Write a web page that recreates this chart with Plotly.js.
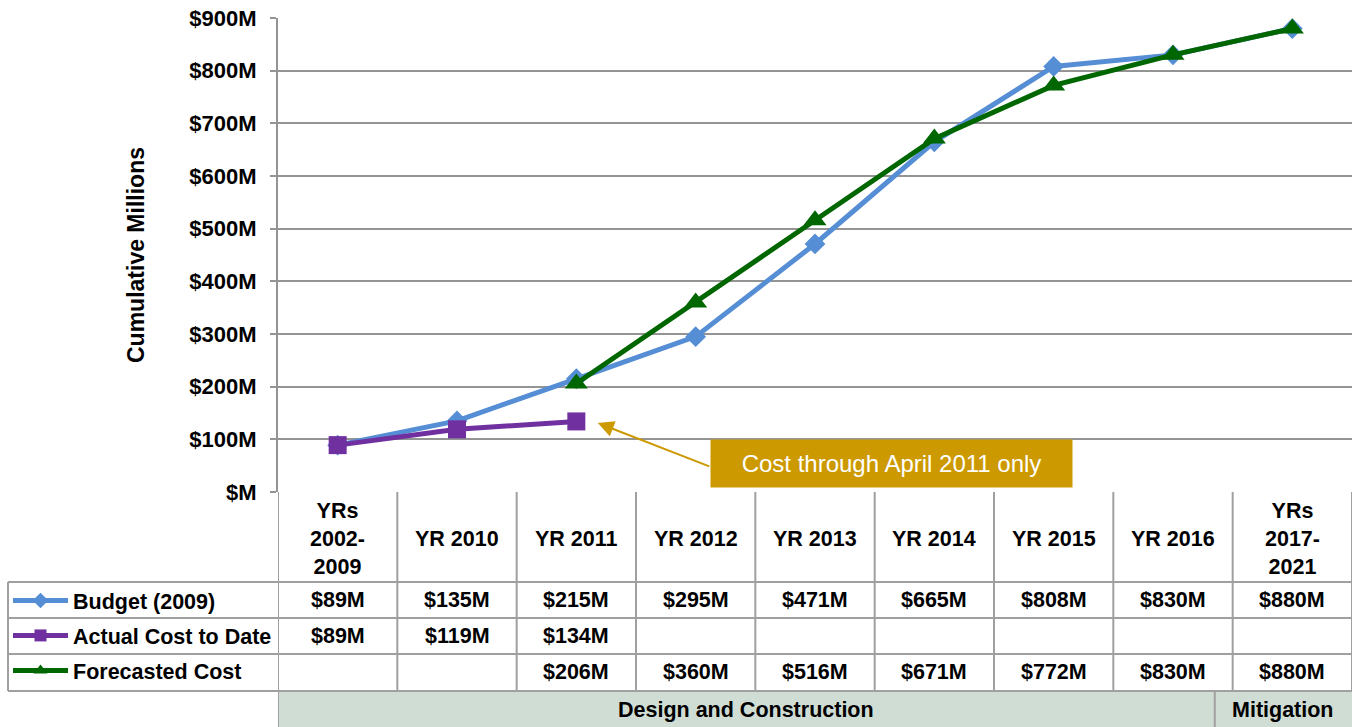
<!DOCTYPE html>
<html><head><meta charset="utf-8">
<script src="https://cdn.plot.ly/plotly-3.0.1.min.js"></script>
<style>html,body{margin:0;padding:0;background:#fff}#chart{width:1352px;height:727px}</style>
</head><body><div id="chart"></div>
<script>
// ---- data ----
const categories = ['YRs 2002-2009','YR 2010','YR 2011','YR 2012','YR 2013','YR 2014','YR 2015','YR 2016','YRs 2017-2021'];
const headerLabels = ['YRs<br>2002-<br>2009','YR 2010','YR 2011','YR 2012','YR 2013','YR 2014','YR 2015','YR 2016','YRs<br>2017-<br>2021'];
const budget   = [89,135,215,295,471,665,808,830,880];
const actual   = [89,119,134,null,null,null,null,null,null];
const forecast = [null,null,206,360,516,671,772,830,880];
const seriesNames = ['Budget (2009)','Actual Cost to Date','Forecasted Cost'];
const phaseLabels = ['Design and Construction','Mitigation'];
const phaseEdges = [-0.5, 7.35, 8.5];   // phase band boundaries on the category scale
const yTickVals = [0,100,200,300,400,500,600,700,800,900];
const yTickText = ['$M','$100M','$200M','$300M','$400M','$500M','$600M','$700M','$800M','$900M'];
const noteText = 'Cost through April 2011 only';
const yTitle = 'Cumulative Millions';

// ---- layout geometry (pixels) ----
const W=1352,H=727;
const plotLeft=278, plotTop=18, plotBottom=492;
const rowLines=[582,618,654,691];
const legendLeft=8;
const px=x=>x/W, py=y=>1-y/H;
const FONT='Liberation Sans, Arial, sans-serif';
const colors=['#558ED5','#7030A0','#006600'];
const gridCol='#949494', tableCol='#a0a0a0';
const n=categories.length;
const TS=21.5;

const traces=[
 {x:categories,y:budget,name:seriesNames[0],legendgroup:'a',type:'scatter',mode:'lines+markers',legendrank:1,
  line:{color:colors[0],width:5},marker:{symbol:'diamond',size:16,color:colors[0]}},
 {x:categories,y:forecast,name:seriesNames[2],legendgroup:'c',type:'scatter',mode:'lines+markers',legendrank:3,
  line:{color:colors[2],width:5},marker:{symbol:'triangle-up',size:20,color:colors[2]}},
 {x:categories,y:actual,name:seriesNames[1],legendgroup:'b',type:'scatter',mode:'lines+markers',legendrank:2,
  line:{color:colors[1],width:5},marker:{symbol:'square',size:18,color:colors[1]}}
];

const shapes=[];
const ann=[];
// green phase band
shapes.push({type:'rect',xref:'x',yref:'paper',x0:phaseEdges[0],x1:phaseEdges[phaseEdges.length-1],y0:py(H),y1:py(rowLines[3]),
  fillcolor:'#D0DDD4',line:{width:0},layer:'below'});
// horizontal table lines
rowLines.forEach(y=>shapes.push({type:'line',xref:'paper',yref:'paper',x0:px(legendLeft),x1:1,y0:py(y),y1:py(y),line:{color:tableCol,width:2}}));
// legend column left border
shapes.push({type:'line',xref:'paper',yref:'paper',x0:px(legendLeft),x1:px(legendLeft),y0:py(rowLines[0]),y1:py(rowLines[3]),line:{color:tableCol,width:2}});
// vertical column lines
for(let i=0;i<=n;i++){
  shapes.push({type:'line',xref:'x',yref:'paper',x0:i-0.5,x1:i-0.5,y0:py(plotBottom),y1:py(i===0?H:rowLines[3]),line:{color:tableCol,width:2}});
}
// phase dividers
for(let k=1;k<phaseEdges.length-1;k++){
  shapes.push({type:'line',xref:'x',yref:'paper',x0:phaseEdges[k],x1:phaseEdges[k],y0:py(rowLines[3]),y1:py(H),line:{color:tableCol,width:2}});
}
// header labels
headerLabels.forEach((t,i)=>ann.push({xref:'x',yref:'paper',x:i,y:py(539),text:t,showarrow:false,
  font:{family:FONT,size:TS,color:'#000',weight:'bold'},yanchor:'middle',xanchor:'center'}));
// values rows
const rows=[budget,actual,forecast];
const rowCenters=[600,636,672];
rows.forEach((arr,r)=>arr.forEach((v,i)=>{ if(v!==null) ann.push({xref:'x',yref:'paper',x:i,y:py(rowCenters[r]),
  text:'$'+v+'M',showarrow:false,font:{family:FONT,size:TS,color:'#000',weight:'bold'},yanchor:'middle',xanchor:'center'});}));
// phase labels
phaseLabels.forEach((t,k)=>ann.push({xref:'x',yref:'paper',x:(phaseEdges[k]+phaseEdges[k+1])/2,y:py(710),text:t,showarrow:false,
  font:{family:FONT,size:TS,color:'#000',weight:'bold'},yanchor:'middle',xanchor:'center'}));
// callout box
ann.push({xref:'paper',yref:'paper',x:px(891.5),y:py(463.5),text:noteText,showarrow:false,
  width:361,height:47,bgcolor:'#CC9900',borderpad:0,font:{family:FONT,size:24,color:'#fff'},xanchor:'center',yanchor:'middle'});
// callout arrow
ann.push({xref:'x',yref:'y',x:2.18,y:131,text:'',showarrow:true,ax:113,ay:44,arrowcolor:'#CC9900',
  arrowwidth:2,arrowhead:2,arrowsize:1.6,standoff:0,startstandoff:0});

const layout={
  width:W,height:H,margin:{l:0,r:0,t:0,b:0},paper_bgcolor:'#fff',plot_bgcolor:'#fff',
  font:{family:FONT,color:'#000'},
  xaxis:{domain:[px(plotLeft),1],type:'category',range:[-0.5,n-0.5],showticklabels:false,ticks:'',
    showgrid:false,zeroline:false,showline:false,fixedrange:true},
  yaxis:{domain:[py(plotBottom),py(plotTop)],range:[0,900],tickvals:yTickVals,ticktext:yTickText,
    showgrid:true,gridcolor:gridCol,gridwidth:2,zeroline:false,showline:true,linecolor:gridCol,linewidth:2,
    ticks:'outside',ticklen:6,tickcolor:gridCol,tickwidth:2,ticklabelstandoff:9,
    tickfont:{family:FONT,size:22,color:'#000',weight:'bold'},
    title:{text:yTitle,font:{family:FONT,size:23,color:'#000',weight:'bold'},standoff:38}},
  showlegend:true,
  legend:{x:px(legendLeft),y:py(rowLines[0]-2),xanchor:'left',yanchor:'top',traceorder:'grouped',
    font:{family:FONT,size:TS,color:'#000',weight:'bold'},itemwidth:55,itemsizing:'constant',
    bgcolor:'rgba(0,0,0,0)',tracegroupgap:4},
  shapes:shapes,annotations:ann
};
Plotly.newPlot('chart',traces,layout,{displayModeBar:false,staticPlot:true});
</script></body></html>
